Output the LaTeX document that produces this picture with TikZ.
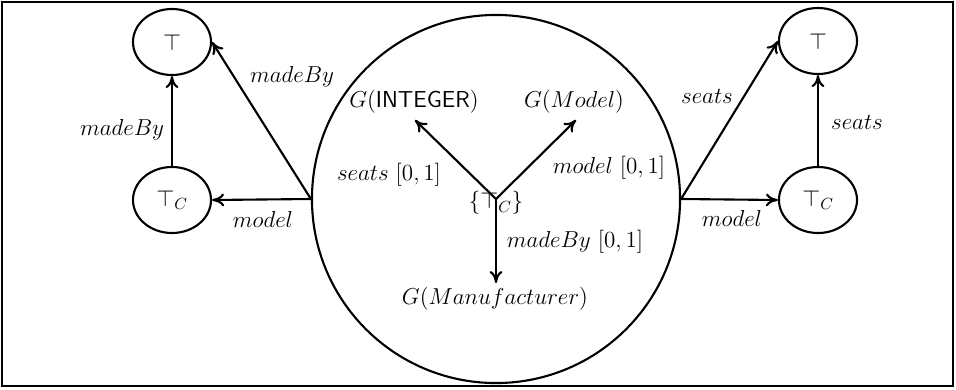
\RequirePackage{fix-cm}
\documentclass[tikz,border=0pt]{standalone}
\usepackage{amsmath}
\usetikzlibrary{arrows.meta,shapes.geometric}

\begin{document}
\begin{tikzpicture}[
  x=0.025cm, y=-0.025cm,
  font=\fontsize{16.4}{19}\selectfont,
  el/.style={ellipse,draw,line width=1.5pt,minimum width=1.95cm,minimum height=1.65cm,inner sep=0pt},
  lbl/.style={inner sep=1pt},
  ar/.style={-{To[length=3mm,width=3.2mm]},line width=1.5pt}
]
\useasboundingbox (0,0) rectangle (956,389);
\draw[line width=1pt] (2,2) rectangle (953,386);

% big class node in the middle
\node[circle,draw,line width=1.5pt,minimum size=9.2cm,inner sep=0pt] (big) at (496,199) {};
\coordinate (c) at (496,199);
\node[lbl] (root) at (496,203) {$\{\top_C\}$};
\coordinate (tint) at (415,120);
\coordinate (tmod) at (576,120);
\coordinate (tman) at (496,283);
\node[lbl] (gint) at (414,102) {$G(\mathsf{INTEGER})$};
\node[lbl] (gmod) at (574,102) {$G(Model)$};
\node[lbl] (gman) at (495,299) {$G(Manufacturer)$};
\draw[ar] (c) -- (tint);
\draw[ar] (c) -- (tmod);
\draw[ar] (c) -- (tman);
\node[lbl] at (389,175) {$seats\ [0,1]$};
\node[lbl] at (609,168) {$model\ [0,1]$};
\node[lbl] at (575,242) {$madeBy\ [0,1]$};

% left side
\node[el] (ltop) at (172,42) {$\top$};
\node[el] (lc) at (172,200) {$\top_C$};
\draw[ar] (big.west) -- (lc.east);
\draw[ar] (big.west) -- (ltop.east);
\draw[ar] (lc.north) -- (ltop.south);
\node[lbl] at (292,77) {$madeBy$};
\node[lbl] at (122,130) {$madeBy$};
\node[lbl] at (263,219) {$model$};

% right side
\node[el] (rtop) at (818,41) {$\top$};
\node[el] (rc) at (818,200) {$\top_C$};
\draw[ar] (big.east) -- (rc.west);
\draw[ar] (big.east) -- (rtop.west);
\draw[ar] (rc.north) -- (rtop.south);
\node[lbl] at (707,96) {$seats$};
\node[lbl] at (857,122) {$seats$};
\node[lbl] at (732,218) {$model$};
\end{tikzpicture}
\end{document}
